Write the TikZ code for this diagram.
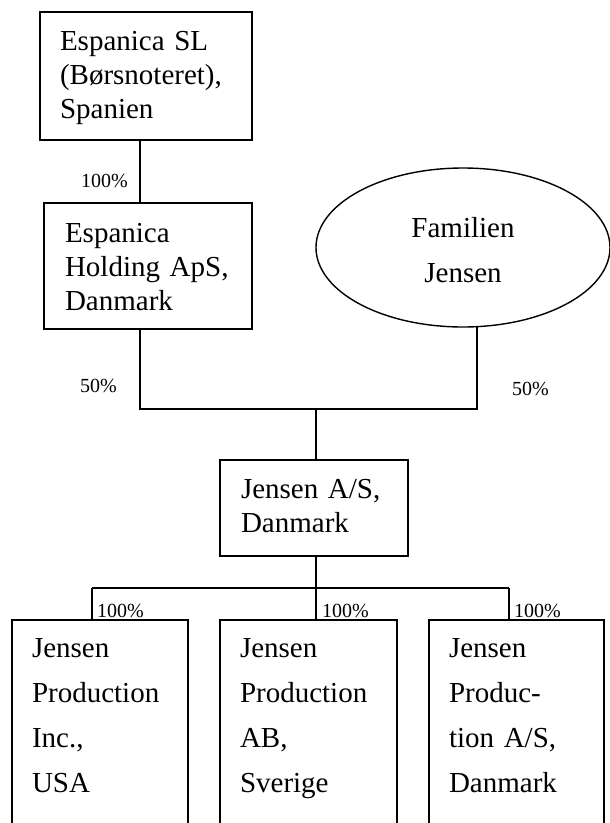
\documentclass[tikz,border=0pt]{standalone}
\usepackage{fontspec}
\setmainfont{Liberation Serif}
\usetikzlibrary{shapes.geometric}
\begin{document}
\begin{tikzpicture}[x=1pt,y=-1pt,
  every node/.style={inner sep=0pt, outer sep=0pt},
  line/.style={line width=1.4pt},
  box/.style={draw, line width=1.4pt, rectangle, anchor=north west, align=left,
    inner ysep=0pt, font=\fontsize{29}{34}\selectfont},
  tallbox/.style={box, font=\fontsize{29}{45}\selectfont, inner xsep=20pt,
    text width=136pt, text height=37pt, text depth=250pt},
  pct/.style={anchor=base west, font=\fontsize{20}{24}\selectfont}]
\useasboundingbox (0,0) rectangle (610,823);
\fill[white] (0,0) rectangle (610,823);
\clip (0,0) rectangle (610,823);

% top boxes
\node[box, inner xsep=20pt, text width=172pt, text height=38pt, text depth=90pt]
  (sl) at (40,12) {Espanica SL\\(Børsnoteret),\\Spanien};
\node[box, inner xsep=21pt, text width=166pt, text height=39pt, text depth=87pt]
  (hold) at (44,203) {Espanica\\Holding ApS,\\Danmark};
\node[draw, line width=1.4pt, ellipse, minimum width=294pt, minimum height=159pt,
  align=center, font=\fontsize{29}{45}\selectfont]
  (fam) at (463,247.5) {\rule{0pt}{26pt}Familien\\Jensen};
\node[box, inner xsep=21pt, text width=146pt, text height=38pt, text depth=58pt]
  (jas) at (220,460) {Jensen A/S,\\Danmark};

% bottom boxes
\node[tallbox] (usa) at (12,620) {Jensen\\Production\\Inc.,\\USA};
\node[tallbox, text width=137pt] (ab) at (220,620) {Jensen\\Production\\AB,\\Sverige};
\node[tallbox, text width=135pt] (dk) at (429,620) {Jensen\\Produc-\\tion A/S,\\Danmark};

% junction coordinates
\coordinate (ja) at (140,409);
\coordinate (jb) at (477,409);
\coordinate (jc) at (316,409);
\coordinate (bus) at (316,588);
\coordinate (busl) at (92,588);
\coordinate (busr) at (509,588);

% connectors
\draw[line] (sl.south -| ja) -- (hold.north -| ja);
\draw[line] (hold.south -| ja) -- (ja) -- (jb) -- (jb |- fam.south);
\draw[line] (jc) -- (jas.north -| jc);
\draw[line] (jas.south -| bus) -- (bus);
\draw[line] (busl) -- (busr);
\draw[line] (busl) -- (usa.north -| busl);
\draw[line] (bus) -- (ab.north -| bus);
\draw[line] (busr) -- (dk.north -| busr);

% percentage labels
\node[pct] (p1) at (81,187) {100\%};
\node[pct] (p2) at (80,392) {50\%};
\node[pct] (p3) at (512,395) {50\%};
\node[pct] (p4) at (97,617) {100\%};
\node[pct] (p5) at (322,617) {100\%};
\node[pct] (p6) at (514,617) {100\%};
\end{tikzpicture}
\end{document}
